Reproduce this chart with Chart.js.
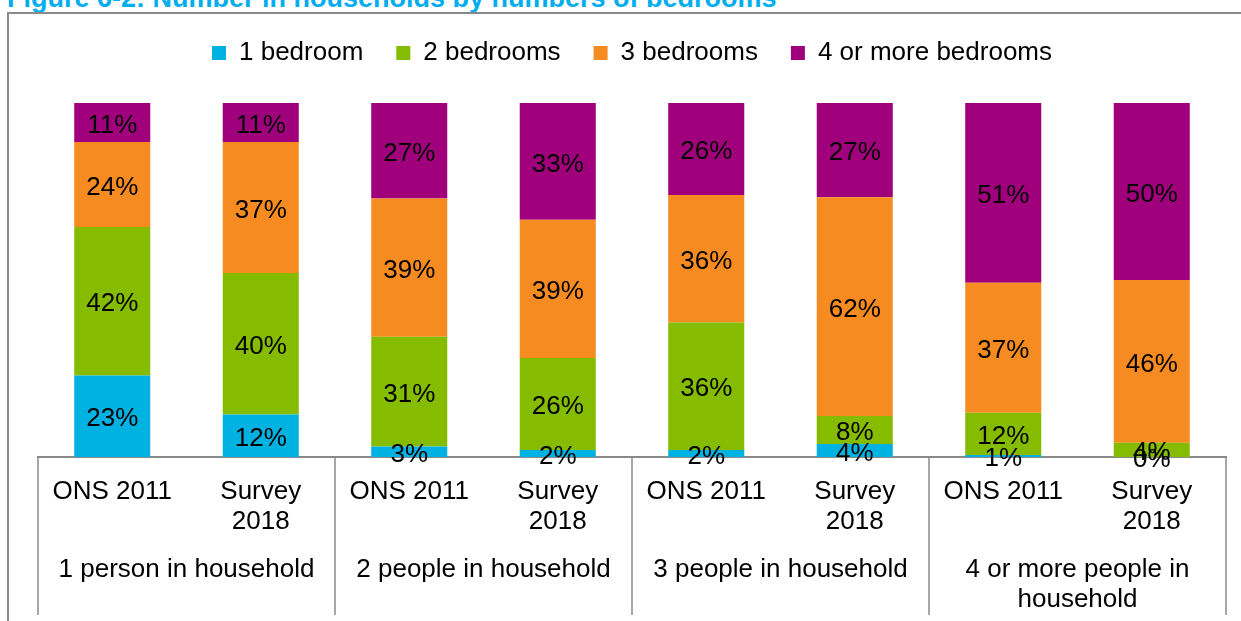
<!DOCTYPE html>
<html><head><meta charset="utf-8">
<script src="https://cdn.jsdelivr.net/npm/chart.js@4.4.1/dist/chart.umd.min.js"></script>
<style>
html,body{margin:0;padding:0;width:1241px;height:621px;overflow:hidden;background:#fff;}
#title{position:absolute;left:7px;top:-15px;font:bold 27px "Liberation Sans",Arial,sans-serif;line-height:27px;color:#00AEEF;white-space:nowrap;}
#frame{position:absolute;left:7px;top:12px;width:1300px;height:700px;border:2px solid #8a8a8a;box-sizing:border-box;}
#c{position:absolute;left:0;top:0;}
</style></head><body>
<div id="title">Figure 6-2: Number in households by numbers of bedrooms</div>
<div id="frame"></div>
<canvas id="c" width="1241" height="621"></canvas>
<script>
// ---- data ----
const categories = [['ONS 2011'], ['Survey', '2018'], ['ONS 2011'], ['Survey', '2018'], ['ONS 2011'], ['Survey', '2018'], ['ONS 2011'], ['Survey', '2018']];
const groups = [['1 person in household'], ['2 people in household'], ['3 people in household'], ['4 or more people in', 'household']];
const seriesNames = ['1 bedroom', '2 bedrooms', '3 bedrooms', '4 or more bedrooms'];
const oneBedroom = [23, 12, 3, 2, 2, 3.7, 0.6, 0];
const twoBedrooms = [42, 40, 31, 26, 36, 7.9, 11.9, 4];
const threeBedrooms = [24, 37, 39, 39, 36, 61.8, 36.7, 46];
const fourPlusBedrooms = [11, 11, 27, 33, 26, 26.6, 50.8, 50];
const seriesColors = ['#00B2E2', '#86BC00', '#F68B21', '#A0007C'];

const FONT = '"Liberation Sans", Arial, sans-serif';
const seriesData = [oneBedroom, twoBedrooms, threeBedrooms, fourPlusBedrooms];

const labelPlugin = {
  id: 'segLabels',
  afterDatasetsDraw(chart) {
    const ctx = chart.ctx;
    ctx.save();
    ctx.font = '26px ' + FONT;
    ctx.fillStyle = '#000';
    ctx.textAlign = 'center';
    ctx.textBaseline = 'middle';
    chart.data.datasets.forEach((ds, i) => {
      const meta = chart.getDatasetMeta(i);
      meta.data.forEach((bar, j) => {
        const v = ds.data[j];
        const y = (bar.y + bar.base) / 2;
        ctx.fillText(Math.round(v) + '%', bar.x, y + 3);
      });
    });
    ctx.restore();
  },
  afterDraw(chart) {
    const ctx = chart.ctx;
    const xs = chart.scales.x;
    const cw = xs.getPixelForValue(1) - xs.getPixelForValue(0);
    ctx.save();
    ctx.strokeStyle = '#8a8a8a';
    ctx.lineWidth = 1.5;
    for (let g = 0; g <= groups.length; g++) {
      const bx = g < groups.length ? xs.getPixelForValue(2 * g) - cw / 2 : xs.getPixelForValue(2 * g - 1) + cw / 2;
      ctx.beginPath();
      ctx.moveTo(bx, xs.top);
      ctx.lineTo(bx, 615);
      ctx.stroke();
    }
    ctx.font = '26px ' + FONT;
    ctx.fillStyle = '#000';
    ctx.textAlign = 'center';
    ctx.textBaseline = 'middle';
    groups.forEach((lines, g) => {
      const cx = (xs.getPixelForValue(2 * g) + xs.getPixelForValue(2 * g + 1)) / 2;
      lines.forEach((t, k) => ctx.fillText(t, cx, 570 + k * 30));
    });
    ctx.restore();
  }
};

new Chart(document.getElementById('c'), {
  type: 'bar',
  data: {
    labels: categories,
    datasets: seriesNames.map((n, i) => ({
      label: n,
      data: seriesData[i],
      backgroundColor: seriesColors[i],
      borderWidth: 0,
      categoryPercentage: 1,
      barPercentage: 0.512,
      xAxisID: 'x',
      yAxisID: 'y'
    }))
  },
  options: {
    responsive: false,
    animation: false,
    devicePixelRatio: 1,
    layout: { padding: { left: 38, right: 15, top: 7, bottom: 0 } },
    plugins: {
      legend: {
        labels: { boxWidth: 14, boxHeight: 14, padding: 33, color: '#000', font: { family: FONT, size: 26 } }
      },
      tooltip: { enabled: false }
    },
    scales: {
      x: {
        stacked: true,
        grid: { display: false, drawTicks: false },
        border: { display: true, color: '#8a8a8a', width: 2 },
        ticks: { autoSkip: false, maxRotation: 0, minRotation: 0, padding: 20, color: '#000', font: { family: FONT, size: 26, lineHeight: 1.15 } },
        afterFit: s => { s.height = 164; }
      },
      gap: {
        type: 'category', position: 'top',
        grid: { display: false }, border: { display: false }, ticks: { display: false },
        afterFit: s => { s.height = 27; }
      },
      y: { stacked: true, display: false, min: 0, max: 100 }
    }
  },
  plugins: [labelPlugin]
});
</script>
</body></html>
